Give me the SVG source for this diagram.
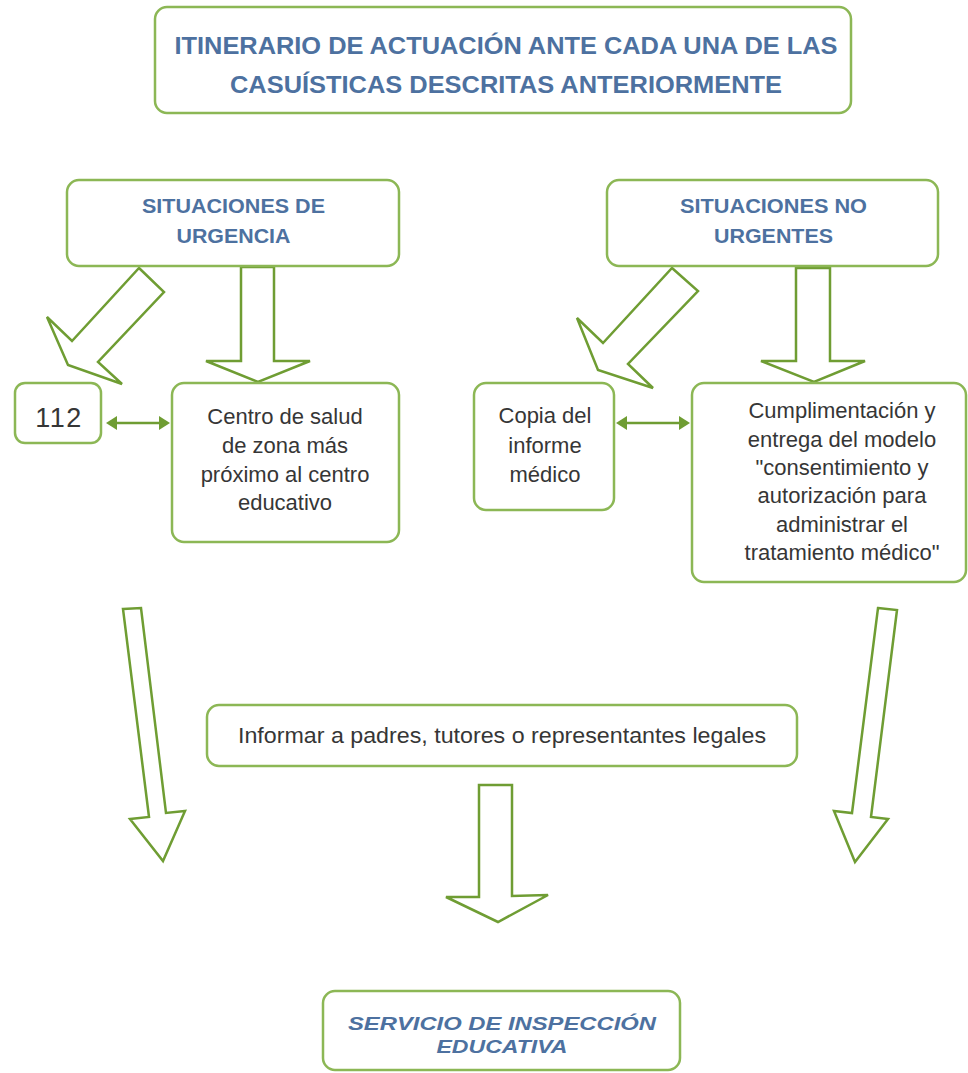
<svg xmlns="http://www.w3.org/2000/svg" width="968" height="1073" viewBox="0 0 968 1073">
  <style>
    .box { fill: #ffffff; stroke: #8cb755; stroke-width: 2.5; }
    .arrow { fill: #ffffff; stroke: #6f9d33; stroke-width: 2.5; stroke-linejoin: miter; }
    .link { stroke: #6f9d33; stroke-width: 2.5; fill: none; }
    .tip { fill: #6f9d33; stroke: none; }
    .head { font-family: "Liberation Sans", Arial, sans-serif; font-weight: bold; fill: #4d71a0; text-anchor: middle; }
    .body { font-family: "Liberation Sans", Arial, sans-serif; font-size: 22px; fill: #363636; text-anchor: middle; }
    .svc { font-family: "Liberation Sans", Arial, sans-serif; font-weight: bold; font-style: italic; font-size: 19px; fill: #4d71a0; text-anchor: middle; }
  </style>
  <rect width="968" height="1073" fill="#ffffff"/>

  <g id="connectors">
    <polygon class="arrow" points="139,268 164,292 98,362 122,384 68,365 47,317 72,341"/>
    <polygon class="arrow" points="241,267 274,267 274,361 310,361 258,382 206,361 241,361"/>
    <polygon class="arrow" points="672,268 698,291 628,364 653,388 598,370 577,318 603,343"/>
    <polygon class="arrow" points="796,268 830,268 830,361 865,361 814,382 761,361 796,361"/>
    <polygon class="arrow" points="123,609 141,608 166,813 185,811 163,861 130,819 149,817"/>
    <polygon class="arrow" points="878,608 897,610 871,817 888,819 855,862 834,811 852,813"/>
    <polygon class="arrow" points="479,785 512,785 512,896 548,895 498,922 446,897 479,897"/>
    <line class="link" x1="114" y1="423" x2="162" y2="423"/>
    <polygon class="tip" points="106,423 117,416 117,430"/>
    <polygon class="tip" points="170,423 159,416 159,430"/>
    <line class="link" x1="624" y1="423" x2="682" y2="423"/>
    <polygon class="tip" points="616,423 627,416 627,430"/>
    <polygon class="tip" points="690,423 679,416 679,430"/>
  </g>

  <g id="title">
    <rect class="box" x="155" y="7" width="696" height="106" rx="12"/>
    <text class="head" x="506" y="54" font-size="24" textLength="663" lengthAdjust="spacingAndGlyphs">ITINERARIO DE ACTUACIÓN ANTE CADA UNA DE LAS</text>
    <text class="head" x="506" y="93" font-size="24" textLength="552" lengthAdjust="spacingAndGlyphs">CASUÍSTICAS DESCRITAS ANTERIORMENTE</text>
  </g>

  <g id="urgencia">
    <rect class="box" x="67" y="180" width="332" height="86" rx="12"/>
    <text class="head" x="233.5" y="213" font-size="20" textLength="183" lengthAdjust="spacingAndGlyphs">SITUACIONES DE</text>
    <text class="head" x="233.5" y="243" font-size="20" textLength="114" lengthAdjust="spacingAndGlyphs">URGENCIA</text>
  </g>

  <g id="no-urgentes">
    <rect class="box" x="607" y="180" width="331" height="86" rx="12"/>
    <text class="head" x="773.5" y="213" font-size="20" textLength="187" lengthAdjust="spacingAndGlyphs">SITUACIONES NO</text>
    <text class="head" x="773.5" y="243" font-size="20" textLength="119" lengthAdjust="spacingAndGlyphs">URGENTES</text>
  </g>

  <g id="n112">
    <rect class="box" x="15" y="383" width="86" height="60" rx="10"/>
    <text class="body" x="59" y="427" style="font-size:27px; letter-spacing:1.5px">112</text>
  </g>

  <g id="centro-salud">
    <rect class="box" x="172" y="383" width="227" height="159" rx="12"/>
    <text class="body" x="285" y="424">Centro de salud</text>
    <text class="body" x="285" y="453">de zona más</text>
    <text class="body" x="285" y="482">próximo al centro</text>
    <text class="body" x="285" y="510">educativo</text>
  </g>

  <g id="copia">
    <rect class="box" x="474" y="383" width="140" height="127" rx="12"/>
    <text class="body" x="545" y="423">Copia del</text>
    <text class="body" x="545" y="453">informe</text>
    <text class="body" x="545" y="482">médico</text>
  </g>

  <g id="cumplimentacion">
    <rect class="box" x="692" y="383" width="274" height="199" rx="12"/>
    <text class="body" x="842" y="418">Cumplimentación y</text>
    <text class="body" x="842" y="447">entrega del modelo</text>
    <text class="body" x="842" y="475">"consentimiento y</text>
    <text class="body" x="842" y="503">autorización para</text>
    <text class="body" x="842" y="532">administrar el</text>
    <text class="body" x="842" y="560">tratamiento médico"</text>
  </g>

  <g id="informar">
    <rect class="box" x="207" y="705" width="590" height="61" rx="12"/>
    <text class="body" x="502" y="743" textLength="528" lengthAdjust="spacingAndGlyphs">Informar a padres, tutores o representantes legales</text>
  </g>

  <g id="servicio">
    <rect class="box" x="323" y="991" width="357" height="79" rx="12"/>
    <text class="svc" x="502" y="1030" textLength="308" lengthAdjust="spacingAndGlyphs">SERVICIO DE INSPECCIÓN</text>
    <text class="svc" x="502" y="1053" textLength="131" lengthAdjust="spacingAndGlyphs">EDUCATIVA</text>
  </g>
</svg>
